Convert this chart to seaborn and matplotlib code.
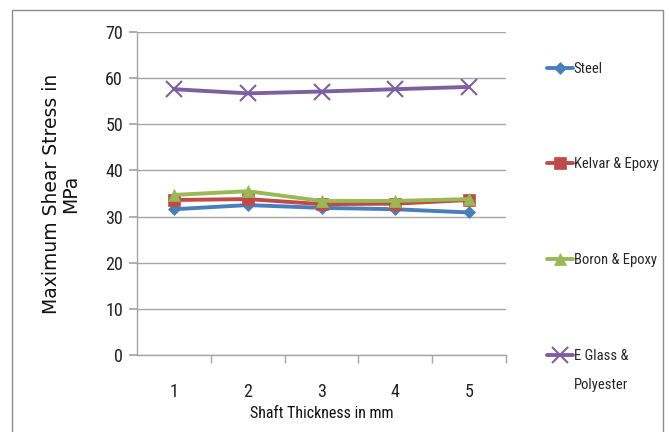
import matplotlib
matplotlib.use("Agg")
import matplotlib.pyplot as plt
from matplotlib import font_manager
import seaborn as sns
import pandas as pd
from matplotlib.patches import Rectangle

thickness = [1, 2, 3, 4, 5]
steel = [31.6, 32.5, 31.9, 31.6, 30.9]
kelvar = [33.6, 33.8, 32.7, 32.8, 33.6]
boron = [34.7, 35.5, 33.4, 33.4, 33.8]
eglass = [57.6, 56.7, 57.1, 57.6, 58.1]
series_names = ["Steel", "Kelvar & Epoxy", "Boron & Epoxy", "E Glass &"]
series_extra_line = "Polyester"
yticks = [0, 10, 20, 30, 40, 50, 60, 70]

sns.set_theme(style="white")

def pick(cands):
    for c in cands:
        try:
            font_manager.findfont(font_manager.FontProperties(family=c),
                                  fallback_to_default=False)
            return c
        except Exception:
            pass
    return "DejaVu Sans"

narrow_name = pick(["Liberation Sans Narrow", "DejaVu Sans Condensed",
                    "Roboto Condensed", "Open Sans Condensed", "Noto Sans Condensed",
                    "Liberation Sans"])
plt.rcParams["font.family"] = [narrow_name, "DejaVu Sans"]

rows = []
for name, vals in zip(series_names, [steel, kelvar, boron, eglass]):
    for t, v in zip(thickness, vals):
        rows.append({"Thickness": t, "Stress": v, "Series": name})
df = pd.DataFrame(rows)

colors = ["#4A7EBB", "#BE4B48", "#98B954", "#7D60A0"]
markers = ["D", "s", "^", "x"]
msizes = [6, 8, 9, 11]

fig = plt.figure(figsize=(6.69, 4.32), dpi=100)
ax = fig.add_axes([0.2048, 0.178, 0.5516, 0.748])

fig.patches.append(Rectangle((12/669, -0.05), (663-12)/669, 1 - 10/432 + 0.05,
                             transform=fig.transFigure, fill=False,
                             edgecolor="#8C8C8C", linewidth=1.0))

for name, c, m, ms in zip(series_names, colors, markers, msizes):
    sub = df[df["Series"] == name]
    sns.lineplot(data=sub, x="Thickness", y="Stress", ax=ax, color=c,
                 marker=m, markersize=ms, linewidth=2.8, label=name,
                 markeredgecolor=c, markeredgewidth=1.5 if m == "x" else 0.5)

ax.set_xlim(0.5, 5.5)
ax.set_ylim(0, 70)
ax.set_yticks(yticks)
ax.set_xticks(thickness)
ax.set_xticks([1.5, 2.5, 3.5, 4.5, 5.5], minor=True)
ax.yaxis.grid(True, color="#A6A6A6", linewidth=1.0)
ax.xaxis.grid(False)
for s in ["top", "right"]:
    ax.spines[s].set_visible(False)
for s in ["left", "bottom"]:
    ax.spines[s].set_color("#A6A6A6")
    ax.spines[s].set_linewidth(1.0)
ax.tick_params(axis="y", which="major", left=True, length=6, color="#A6A6A6",
               labelsize=13, pad=4, labelcolor="#222222")
ax.tick_params(axis="x", which="major", bottom=False, labelsize=13, pad=14,
               labelcolor="#222222")
ax.tick_params(axis="x", which="minor", bottom=True, length=6, color="#A6A6A6")

ax.set_xlabel("Shaft Thickness in mm", fontsize=11.5, labelpad=4, color="#111111")
ax.set_ylabel("Maximum Shear Stress in\nMPa", fontsize=13.5,
              family=["DejaVu Sans"], labelpad=18, linespacing=1.0, color="#111111")

leg_fs = 10.5
leg = ax.legend(loc="upper left", bbox_to_anchor=(1.094, 0.926), frameon=False,
                fontsize=leg_fs, labelspacing=5.6, handlelength=1.8,
                handletextpad=0.05, borderaxespad=0)
for h in leg.legend_handles:
    h.set_linewidth(2.8)

fig.canvas.draw()
last = leg.get_texts()[-1]
bb = last.get_window_extent()
fig.text(bb.x0 / fig.bbox.width, (bb.y0 - 29) / fig.bbox.height,
         series_extra_line, fontsize=leg_fs, color=last.get_color(),
         ha="left", va="bottom")

fig.savefig("out.png", dpi=100)
